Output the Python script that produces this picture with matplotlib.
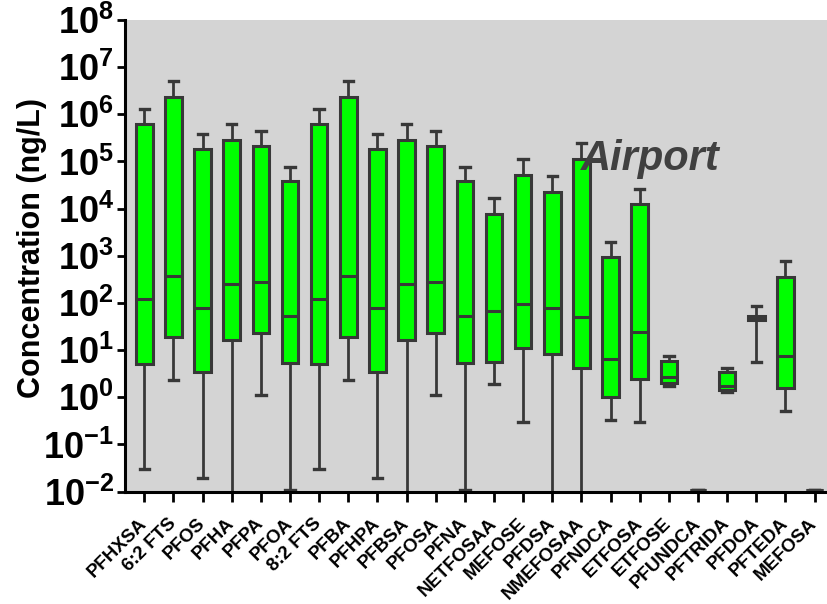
import numpy as np
import matplotlib.pyplot as plt
from matplotlib.ticker import FixedLocator, NullLocator

# compounds along the x axis
compounds = ['PFHXSA', '6:2 FTS', 'PFOS', 'PFHA', 'PFPA', 'PFOA', '8:2 FTS',
             'PFBA', 'PFHPA', 'PFBSA', 'PFOSA', 'PFNA', 'NETFOSAA', 'MEFOSE',
             'PFDSA', 'NMEFOSAA', 'PFNDCA', 'ETFOSA', 'ETFOSE', 'PFUNDCA',
             'PFTRIDA', 'PFDOA', 'PFTEDA', 'MEFOSA']

# log10 of whisker low, Q1, median, Q3, whisker high (ng/L)
log_low = [-1.52, 0.37, -1.70, -3.0, 0.04, -1.97, -1.52, 0.37, -1.70, -3.0,
           0.04, -1.97, 0.28, -0.52, -3.0, -3.0, -0.49, -0.53, 0.25, -1.97,
           0.11, 0.74, -0.30, -1.97]
log_q1 = [0.71, 1.27, 0.54, 1.22, 1.36, 0.72, 0.71, 1.27, 0.54, 1.22,
          1.36, 0.72, 0.74, 1.05, 0.91, 0.62, 0.0, 0.38, 0.30, -1.97,
          0.16, 1.63, 0.19, -1.97]
log_med = [2.08, 2.57, 1.90, 2.40, 2.44, 1.73, 2.08, 2.57, 1.90, 2.40,
           2.44, 1.73, 1.82, 1.97, 1.90, 1.70, 0.81, 1.38, 0.42, -1.97,
           0.23, 1.68, 0.88, -1.97]
log_q3 = [5.80, 6.37, 5.26, 5.46, 5.33, 4.59, 5.80, 6.37, 5.26, 5.46,
          5.33, 4.59, 3.89, 4.71, 4.36, 5.05, 2.97, 4.10, 0.78, -1.97,
          0.54, 1.73, 2.55, -1.97]
log_high = [6.11, 6.71, 5.58, 5.80, 5.65, 4.89, 6.11, 6.71, 5.58, 5.80,
            5.65, 4.89, 4.22, 5.05, 4.69, 5.39, 3.30, 4.42, 0.88, -1.97,
            0.62, 1.94, 2.88, -1.97]

edge = '#383838'
stats = []
for i, name in enumerate(compounds):
    stats.append(dict(label=name,
                      whislo=10**log_low[i], q1=10**log_q1[i],
                      med=10**log_med[i], q3=10**log_q3[i],
                      whishi=10**log_high[i], fliers=[]))

plt.rcParams['font.family'] = ['Liberation Sans', 'DejaVu Sans']
plt.rcParams['mathtext.fontset'] = 'custom'
plt.rcParams['mathtext.rm'] = 'Liberation Sans:bold'
plt.rcParams['mathtext.bf'] = 'Liberation Sans:bold'
plt.rcParams['mathtext.default'] = 'bf'

fig = plt.figure(figsize=(8.28, 6.04), dpi=100)
ax = fig.add_axes([0.151, 0.186, 0.849, 0.781])
ax.set_facecolor('#d4d4d4')

pos = np.arange(len(compounds))
ax.bxp(stats, positions=pos, widths=0.57, showfliers=False, patch_artist=True,
       boxprops=dict(facecolor='#00ff00', edgecolor=edge, linewidth=2.2),
       medianprops=dict(color=edge, linewidth=2.2),
       whiskerprops=dict(color=edge, linewidth=2.0),
       capprops=dict(color=edge, linewidth=2.4),
       capwidths=0.32)

ax.set_yscale('log')
ax.set_ylim(1e-2, 1e8)
ax.set_xlim(-0.66, 23.46)
ax.yaxis.set_major_locator(FixedLocator([10.0**k for k in range(-2, 9)]))
ax.yaxis.set_minor_locator(NullLocator())
ax.set_yticklabels(['$10^{%d}$' % k for k in range(-2, 9)])

ax.set_xticks(pos)
ax.set_xticklabels(compounds, rotation=45, ha='right', va='center',
                   rotation_mode='anchor', fontsize=13.5, fontweight='bold')

for s in ['top', 'right']:
    ax.spines[s].set_visible(False)
for s in ['left', 'bottom']:
    ax.spines[s].set_linewidth(2.2)
    ax.spines[s].set_color('black')

ax.tick_params(axis='y', labelsize=26, length=6, width=2, pad=2)
ax.tick_params(axis='x', length=7, width=2, pad=14)

ax.set_ylabel('Concentration (ng/L)', fontsize=22, fontweight='bold')
ax.yaxis.set_label_coords(-0.111, 0.516)

ax.text(17.35, 10**5.05, 'Airport', fontsize=30, fontweight='bold',
        fontstyle='italic', color='#404040', ha='center', va='center')

fig.savefig('out.png', dpi=100)
